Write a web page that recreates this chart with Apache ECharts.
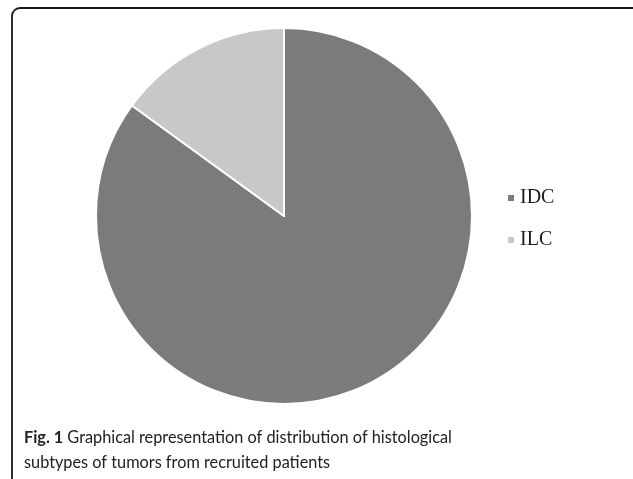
<!DOCTYPE html>
<html>
<head>
<meta charset="utf-8">
<script src="https://cdn.jsdelivr.net/npm/echarts@6/dist/echarts.min.js"></script>
<style>
  html, body { margin: 0; padding: 0; background: #fff; }
  #chart { width: 633px; height: 479px; }
</style>
</head>
<body>
<div id="chart"></div>
<script>
// subtype names and share of patients
const subtypes = ['IDC', 'ILC'];
const shares = [85, 15];
const colors = ['#7b7b7b', '#c7c8c7'];

const chart = echarts.init(document.getElementById('chart'));

const option = {
  animation: false,
  color: colors,
  legend: {
    orient: 'vertical',
    left: 501,
    top: 183,
    icon: 'rect',
    itemWidth: 8,
    itemHeight: 8,
    itemGap: 22,
    data: subtypes,
    textStyle: { fontFamily: 'Liberation Serif', fontSize: 20, color: '#1a1a1a' }
  },
  graphic: [
    {
      type: 'rect',
      shape: { x: 12, y: 8, width: 640, height: 500, r: 8 },
      style: { fill: 'none', stroke: '#1a1a1a', lineWidth: 1.8 },
      silent: true
    },
    {
      type: 'text',
      left: 24,
      top: 425,
      style: {
        text: '{b|Fig. 1} Graphical representation of distribution of histological\nsubtypes of tumors from recruited patients',
        fontFamily: 'Lato',
        fontSize: 16.3,
        lineHeight: 25,
        fill: '#222',
        rich: {
          b: { fontFamily: 'Lato', fontWeight: 'bold', fontSize: 16.3, fill: '#222', lineHeight: 25 }
        }
      }
    }
  ],
  series: [
    {
      type: 'pie',
      center: [284, 216],
      radius: [0, 188],
      startAngle: 90,
      clockwise: true,
      label: { show: false },
      labelLine: { show: false },
      itemStyle: { borderColor: '#fff', borderWidth: 2 },
      data: subtypes.map((n, i) => ({ name: n, value: shares[i] }))
    }
  ]
};

chart.setOption(option);
</script>
</body>
</html>
